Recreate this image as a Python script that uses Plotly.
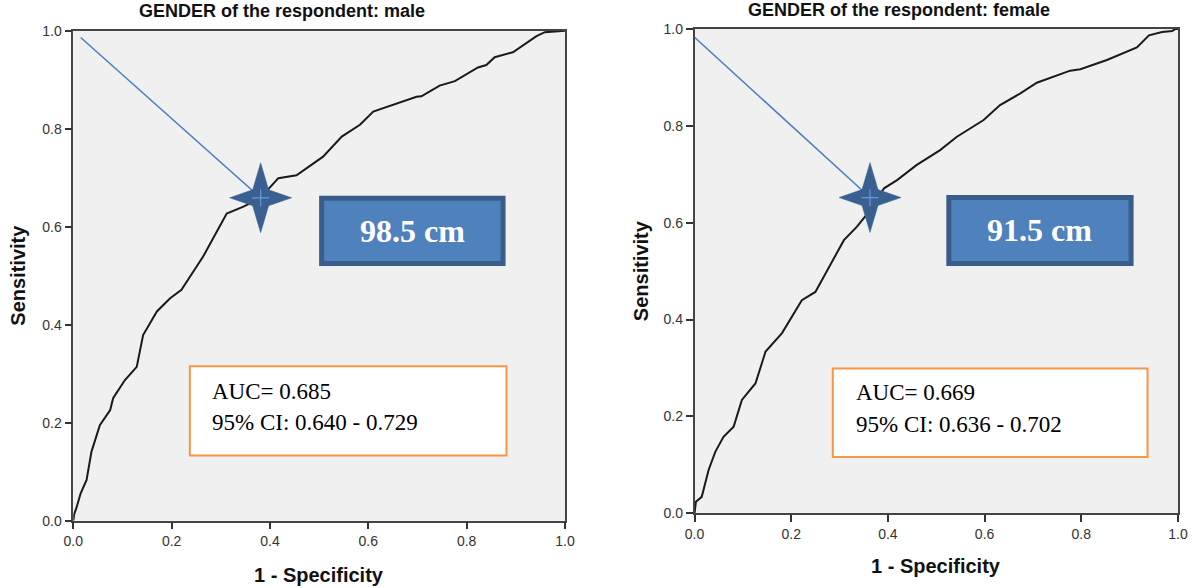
import numpy as np
import plotly.graph_objects as go

# ---------------- data ----------------
fpr_male = [0, 0.002, 0.006, 0.015, 0.027, 0.037, 0.054, 0.075, 0.081, 0.105, 0.129, 0.142,
            0.170, 0.197, 0.220, 0.264, 0.312, 0.346, 0.380, 0.417, 0.454, 0.508, 0.546,
            0.583, 0.610, 0.650, 0.698, 0.708, 0.745, 0.776, 0.823, 0.840, 0.857, 0.894,
            0.942, 0.959, 1.0]
tpr_male = [0, 0.014, 0.025, 0.056, 0.083, 0.141, 0.195, 0.226, 0.250, 0.287, 0.314, 0.379,
            0.427, 0.454, 0.471, 0.539, 0.627, 0.641, 0.658, 0.699, 0.705, 0.743, 0.784,
            0.808, 0.835, 0.848, 0.865, 0.866, 0.888, 0.897, 0.925, 0.930, 0.946, 0.956,
            0.989, 0.997, 1.0]

fpr_female = [0, 0.003, 0.015, 0.022, 0.029, 0.043, 0.060, 0.081, 0.098, 0.126, 0.147, 0.181,
              0.222, 0.250, 0.281, 0.309, 0.336, 0.361, 0.392, 0.419, 0.459, 0.508, 0.542,
              0.598, 0.632, 0.674, 0.708, 0.777, 0.798, 0.853, 0.915, 0.940, 0.967, 0.988,
              0.995, 1.0]
tpr_female = [0, 0.024, 0.034, 0.065, 0.089, 0.127, 0.158, 0.179, 0.234, 0.268, 0.334, 0.372,
              0.440, 0.457, 0.512, 0.564, 0.592, 0.623, 0.671, 0.688, 0.719, 0.750, 0.777,
              0.812, 0.843, 0.867, 0.889, 0.914, 0.917, 0.936, 0.962, 0.987, 0.994, 0.996,
              1.0, 1.0]

# optimal cut-off points (1-specificity, sensitivity) and pointer-line start
cut_male = (0.381, 0.659)
cut_female = (0.363, 0.652)
pointer_start_male = (0.015, 0.986)
pointer_start_female = (0.0, 0.983)

titles = ["GENDER of the respondent: male", "GENDER of the respondent: female"]
cut_labels = ["98.5 cm", "91.5 cm"]
auc_text = ["AUC= 0.685", "AUC= 0.669"]
ci_text = ["95% CI: 0.640 - 0.729", "95% CI: 0.636 - 0.702"]
tick_vals = [0, 0.2, 0.4, 0.6, 0.8, 1.0]
tick_text = ["0.0", "0.2", "0.4", "0.6", "0.8", "1.0"]

# ---------------- layout geometry ----------------
W, H = 1193, 588
panels = [
    dict(x0=73.3, x1=565.0, ytop=30.7, ybot=520.7, xref="x", yref="y",
         blue=(0.505, 0.874, 0.525, 0.658), orange=(0.237, 0.881, 0.133, 0.315),
         text_x=0.278, line1_y=0.264, line2_y=0.200,
         title_x=282, title_y=11, ytitle_x=18, xtitle_y=575),
    dict(x0=694.5, x1=1178.0, ytop=29.0, ybot=513.3, xref="x2", yref="y2",
         blue=(0.526, 0.903, 0.516, 0.652), orange=(0.286, 0.937, 0.116, 0.299),
         text_x=0.329, line1_y=0.249, line2_y=0.184,
         title_x=899, title_y=10, ytitle_x=641, xtitle_y=566),
]

SANS = "Liberation Sans, Arial, sans-serif"
SERIF = "Liberation Serif, Times New Roman, serif"

fig = go.Figure()

def star_path(cx, cy, sx, sy, a=31.0, b=35.0, inner=8.0):
    # four-pointed star: tips at the axes, inner corners on the diagonals (pixel sizes)
    xs, ys = [], []
    for k in range(9):
        ang = k * np.pi / 4
        if k % 2 == 0:
            dx, dy = a * np.cos(ang), b * np.sin(ang)
        else:
            dx, dy = inner * np.sign(np.cos(ang)), inner * np.sign(np.sin(ang))
        xs.append(cx + dx / sx)
        ys.append(cy + dy / sy)
    return xs, ys

datasets = [(fpr_male, tpr_male, cut_male, pointer_start_male),
            (fpr_female, tpr_female, cut_female, pointer_start_female)]

annotations = []
shapes = []
for i, (pn, (fx, ty, cut, pstart)) in enumerate(zip(panels, datasets)):
    xr, yr = pn["xref"], pn["yref"]
    sx = pn["x1"] - pn["x0"]
    sy = pn["ybot"] - pn["ytop"]
    fig.add_trace(go.Scatter(x=fx, y=ty, mode="lines", xaxis=xr, yaxis=yr,
                             line=dict(color="#1a1a1a", width=2), showlegend=False,
                             hoverinfo="skip"))
    fig.add_trace(go.Scatter(x=[pstart[0], cut[0]], y=[pstart[1], cut[1]], mode="lines",
                             xaxis=xr, yaxis=yr, line=dict(color="#4A7EC0", width=1.5),
                             showlegend=False, hoverinfo="skip"))
    stx, sty = star_path(cut[0], cut[1], sx, sy)
    fig.add_trace(go.Scatter(x=stx, y=sty, mode="lines", fill="toself", xaxis=xr, yaxis=yr,
                             fillcolor="#3A6092", line=dict(color="#3A6092", width=0.5),
                             showlegend=False, hoverinfo="skip"))
    fig.add_trace(go.Scatter(x=[cut[0]], y=[cut[1]], mode="markers", xaxis=xr, yaxis=yr,
                             marker=dict(symbol="cross-thin", size=12,
                                         line=dict(color="#6A9AD4", width=1.2)),
                             showlegend=False, hoverinfo="skip"))

    bx0, bx1, by0, by1 = pn["blue"]
    shapes.append(dict(type="rect", xref=xr, yref=yr, x0=bx0, x1=bx1, y0=by0, y1=by1,
                       fillcolor="#4F81BD", line=dict(color="#385D8A", width=5)))
    annotations.append(dict(xref=xr, yref=yr, x=(bx0 + bx1) / 2, y=(by0 + by1) / 2,
                            text="<b>%s</b>" % cut_labels[i], showarrow=False,
                            font=dict(family=SERIF, size=32, color="white"),
                            xanchor="center", yanchor="middle"))
    ox0, ox1, oy0, oy1 = pn["orange"]
    shapes.append(dict(type="rect", xref=xr, yref=yr, x0=ox0, x1=ox1, y0=oy0, y1=oy1,
                       fillcolor="white", line=dict(color="#F79646", width=2)))
    annotations.append(dict(xref=xr, yref=yr, x=pn["text_x"], y=pn["line1_y"],
                            text=auc_text[i], showarrow=False, xanchor="left",
                            yanchor="middle", font=dict(family=SERIF, size=23, color="black")))
    annotations.append(dict(xref=xr, yref=yr, x=pn["text_x"], y=pn["line2_y"],
                            text=ci_text[i], showarrow=False, xanchor="left",
                            yanchor="middle", font=dict(family=SERIF, size=23, color="black")))
    # titles
    annotations.append(dict(xref="paper", yref="paper", x=pn["title_x"] / W,
                            y=1 - pn["title_y"] / H, text="<b>%s</b>" % titles[i],
                            showarrow=False, xanchor="center", yanchor="middle",
                            font=dict(family=SANS, size=18, color="#111")))
    annotations.append(dict(xref="paper", yref="paper", x=pn["ytitle_x"] / W,
                            y=1 - (pn["ytop"] + pn["ybot"]) / 2 / H, text="<b>Sensitivity</b>",
                            textangle=-90, showarrow=False, xanchor="center", yanchor="middle",
                            font=dict(family=SANS, size=20, color="#111")))
    annotations.append(dict(xref="paper", yref="paper", x=(pn["x0"] + pn["x1"]) / 2 / W,
                            y=1 - pn["xtitle_y"] / H, text="<b>1 - Specificity</b>",
                            showarrow=False, xanchor="center", yanchor="middle",
                            font=dict(family=SANS, size=20, color="#111")))

def axis(domain):
    return dict(domain=domain, range=[0, 1], tickvals=tick_vals, ticktext=tick_text,
                ticks="outside", ticklen=7, tickwidth=1.5, tickcolor="#333",
                showline=True, linecolor="#444", linewidth=1.5, mirror=True,
                showgrid=False, zeroline=False, automargin=False,
                tickfont=dict(family=SANS, size=14, color="#333"), fixedrange=True)

p0, p1 = panels
fig.update_layout(
    template="none",
    width=W, height=H, margin=dict(l=0, r=0, t=0, b=0, autoexpand=False),
    paper_bgcolor="white", plot_bgcolor="#F0F0F0", showlegend=False,
    xaxis=dict(axis([p0["x0"] / W, p0["x1"] / W]), anchor="y"),
    yaxis=dict(axis([1 - p0["ybot"] / H, 1 - p0["ytop"] / H]), anchor="x"),
    xaxis2=dict(axis([p1["x0"] / W, p1["x1"] / W]), anchor="y2"),
    yaxis2=dict(axis([1 - p1["ybot"] / H, 1 - p1["ytop"] / H]), anchor="x2"),
    shapes=shapes, annotations=annotations,
)

fig.write_html("out.html")
